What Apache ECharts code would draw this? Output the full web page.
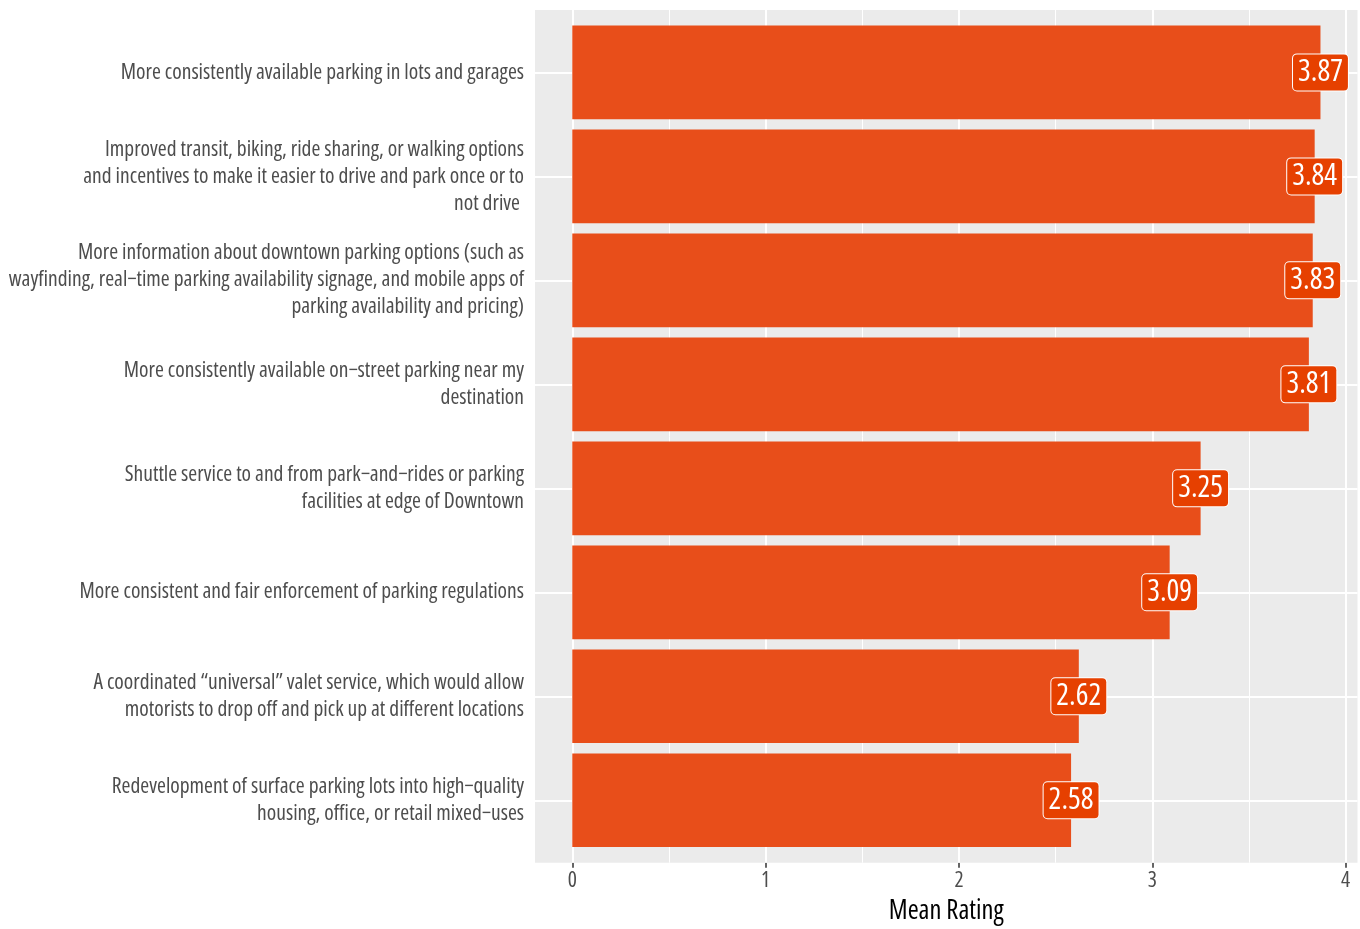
<!DOCTYPE html>
<html>
<head>
<meta charset="utf-8">
<script src="https://cdn.jsdelivr.net/npm/echarts@6/dist/echarts.min.js"></script>
<style>
  html, body { margin: 0; padding: 0; background: #ffffff; }
  #chart { width: 1360px; height: 929px; }
</style>
</head>
<body>
<div id="chart"></div>
<script>
// Survey items, top to bottom, with manual line wraps
const categories = [
  'More consistently available parking in lots and garages',
  'Improved transit, biking, ride sharing, or walking options\nand incentives to make it easier to drive and park once or to\nnot drive ',
  'More information about downtown parking options (such as\nwayfinding, real\u2212time parking availability signage, and mobile apps of\nparking availability and pricing)',
  'More consistently available on\u2212street parking near my\ndestination',
  'Shuttle service to and from park\u2212and\u2212rides or parking\nfacilities at edge of Downtown',
  'More consistent and fair enforcement of parking regulations',
  'A coordinated \u201cuniversal\u201d valet service, which would allow\nmotorists to drop off and pick up at different locations',
  'Redevelopment of surface parking lots into high\u2212quality\nhousing, office, or retail mixed\u2212uses'
];
const meanRating = [3.87, 3.84, 3.83, 3.81, 3.25, 3.09, 2.62, 2.58];
const xTicks = [0, 1, 2, 3, 4];
const xMinorTicks = [0.5, 1.5, 2.5, 3.5];
const xTitle = 'Mean Rating';

// condensed width of the variable Open Sans face
const FONT = '"Open Sans", "DejaVu Sans Condensed", sans-serif';
const STRETCH = 'condensed';

// layout (px)
const W = 1360, H = 929;
const PANEL = { left: 535, right: 1357.5, top: 10, bottom: 862.7 };
const X0_PX = 572.3, X4_PX = 1345.6;              // where 0 and 4 fall
const X_LO = 0, X_HI = 4;
const pxPerUnit = (X4_PX - X0_PX) / (X_HI - X_LO);
const band = (PANEL.bottom - PANEL.top) / (categories.length + 0.2);
const pad = band * 0.1;                            // extra room above/below the bands

// panel range expressed in data units so gridlines line up with the bars
const PANEL_X_MIN = X_LO - (X0_PX - PANEL.left) / pxPerUnit;
const PANEL_X_MAX = X_HI + (PANEL.right - X4_PX) / pxPerUnit;
const positions = categories.map((_, i) => i + 1);

const chart = echarts.init(document.getElementById('chart'), null, { renderer: 'canvas' });

const lineStyleMajor = { color: '#ffffff', width: 2, type: 'solid' };
const lineStyleMinor = { color: '#ffffff', width: 1, type: 'solid' };
const hiddenAxisLine = { show: true, lineStyle: { color: 'rgba(0,0,0,0)', width: 0 } };
const tickStyle = { color: '#333333', width: 1.5 };

chart.setOption({
  animation: false,
  backgroundColor: '#ffffff',
  textStyle: { fontFamily: FONT, fontStyle: STRETCH },
  grid: [
    // bars and axes
    { left: X0_PX, right: W - X4_PX, top: PANEL.top + pad, bottom: H - PANEL.bottom + pad,
      containLabel: false, outerBoundsMode: 'none', show: false },
    // grey panel with its gridlines and the axis title
    { left: PANEL.left, right: W - PANEL.right, top: PANEL.top, bottom: H - PANEL.bottom,
      containLabel: false, outerBoundsMode: 'none', show: true, backgroundColor: '#EBEBEB', borderWidth: 0 }
  ],
  xAxis: [
    {
      gridIndex: 0, type: 'value', min: X_LO, max: X_HI, interval: 1,
      offset: pad,
      axisLine: hiddenAxisLine,
      axisTick: { show: true, length: 5, lineStyle: tickStyle },
      axisLabel: { show: true, fontSize: 21.5, color: '#4D4D4D', margin: 7, fontFamily: FONT, fontStyle: STRETCH },
      splitLine: { show: false }
    },
    {
      gridIndex: 1, type: 'value', min: PANEL_X_MIN, max: PANEL_X_MAX,
      axisLine: hiddenAxisLine,
      axisTick: { show: false },
      axisLabel: { show: false },
      splitLine: { show: false },
      name: xTitle,
      nameLocation: 'middle',
      nameGap: 35,
      nameTextStyle: { fontSize: 26.5, color: '#000000', fontFamily: FONT, fontStyle: STRETCH }
    }
  ],
  yAxis: [
    {
      gridIndex: 0, type: 'category', data: categories, inverse: true,
      offset: X0_PX - PANEL.left,
      axisLine: hiddenAxisLine,
      axisTick: { show: true, alignWithLabel: true, length: 5, lineStyle: tickStyle },
      axisLabel: {
        show: true, interval: 0,
        fontSize: 21.5, lineHeight: 27, color: '#4D4D4D', align: 'right', margin: 11,
        fontFamily: FONT, fontStyle: STRETCH
      },
      splitLine: { show: false }
    },
    { gridIndex: 1, type: 'value', min: 0.4, max: categories.length + 0.6, inverse: true, show: false }
  ],
  series: [
    {
      // panel gridlines
      type: 'line', xAxisIndex: 1, yAxisIndex: 1, data: [], z: 1, silent: true,
      markLine: {
        silent: true, symbol: ['none', 'none'], z: 1, animation: false,
        label: { show: false },
        emphasis: { disabled: true },
        data: [
          ...xMinorTicks.map(v => ({ xAxis: v, lineStyle: lineStyleMinor })),
          ...xTicks.map(v => ({ xAxis: v, lineStyle: lineStyleMajor })),
          ...positions.map(v => ({ yAxis: v, lineStyle: lineStyleMajor }))
        ]
      }
    },
    {
      type: 'bar', xAxisIndex: 0, yAxisIndex: 0, z: 2,
      data: meanRating,
      barCategoryGap: '10%',
      itemStyle: { color: '#E84E1A' },
      silent: true
    },
    {
      // value labels centred on each bar end
      type: 'scatter', xAxisIndex: 0, yAxisIndex: 0, z: 3,
      symbolSize: 0,
      itemStyle: { opacity: 1 },
      data: meanRating.map((v, i) => [v, i]),
      silent: true,
      label: {
        show: true, position: 'inside', opacity: 1,
        formatter: (p) => p.value[0].toFixed(2),
        fontSize: 30, lineHeight: 31, color: '#ffffff', fontFamily: FONT, fontStyle: STRETCH,
        backgroundColor: '#E64000', borderColor: '#ffffff', borderWidth: 1,
        borderRadius: 4, padding: [4, 5, 1, 5]
      }
    }
  ]
});
</script>
</body>
</html>
